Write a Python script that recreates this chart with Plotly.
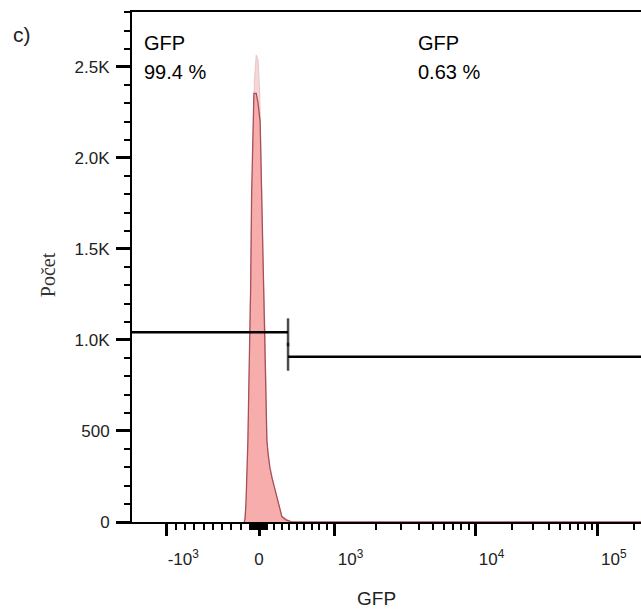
"""
GFP histogram (flow cytometry) with a biexponential-like x axis and two gates.
"""

import numpy as np
import plotly.graph_objects as go

# --- data ------------------------------------------------------------------
# GFP channel values (bin centres) and event counts, main sample (dark outline)
gfp_main = [-160, -150, -140, -130, -120, -110, -100, -90, -80, -65, -55, -30,
            -10, 15, 25, 40, 55, 65, 80, 95, 105, 120, 145, 175, 215, 255,
            305, 360, 415, 440, 262144]
count_main = [0, 20, 120, 280, 450, 750, 1000, 1300, 1800, 2250, 2355, 2355,
              2300, 2200, 2000, 1750, 1450, 1250, 1090, 750, 450, 380, 300,
              240, 180, 110, 30, 12, 3, 0, 0]

# overlaid sample (light fill), only its tip shows above the main one
gfp_overlay = [-160, -140, -120, -100, -80, -65, -50, -30, -10, 10, 25, 40,
               55, 80, 105, 145, 215, 305, 440]
count_overlay = [0, 100, 430, 950, 1700, 2150, 2420, 2565, 2540, 2350, 2000,
                 1700, 1400, 1050, 440, 290, 175, 30, 0]

# gates: GFP range and the count level the gate bar is drawn at
gate_lo = [-2000, 387]
gate_hi = [387, 262144]
gate_lo_y = 1042
gate_hi_y = 908
gate_pct = ["99.4 %", "0.63 %"]

# axis ticks
y_ticks = [0, 500, 1000, 1500, 2000, 2500]
y_ticktext = ["0", "500", "1.0K", "1.5K", "2.0K", "2.5K"]
x_ticks = [-1000, 0, 1000, 10000, 100000]
x_ticktext = ["-10<sup>3</sup>", "0", "10<sup>3</sup>", "10<sup>4</sup>", "10<sup>5</sup>"]
x_minor = ([-v for v in range(100, 1000, 100)] + [-v for v in range(10, 100, 10)]
           + list(range(10, 100, 10)) + list(range(100, 1000, 100))
           + list(range(2000, 10000, 1000)) + list(range(20000, 100000, 10000))
           + [200000])

# --- biexponential-like display transform -----------------------------------
NEG_SCALE = 92.3 / 1000   # display units per GFP unit below zero
POS_SCALE = 75.0 / 1000   # display units per GFP unit from 0 to 10^3
DECADES = [3, 4, 5, 6]
DECADE_POS = [75.0, 216.0, 338.3, 460.6]


def biex(v):
    v = np.asarray(v, dtype=float)
    out = np.where(v < 0, v * NEG_SCALE, v * POS_SCALE)
    hi = v > 1000
    out[hi] = np.interp(np.log10(v[hi]), DECADES, DECADE_POS)
    return out


pad = "\u00a0" * 7
x_ticktext = [t if t == "0" else pad + t for t in x_ticktext]

fig = go.Figure()

fig.add_trace(go.Scatter(
    x=biex(gfp_overlay), y=count_overlay, mode="lines", fill="tozeroy",
    line=dict(color="rgba(235,190,190,0.9)", width=1),
    fillcolor="rgba(242,205,205,0.8)", hoverinfo="skip", showlegend=False))

fig.add_trace(go.Scatter(
    x=biex(gfp_main), y=count_main, mode="lines", fill="tozeroy",
    line=dict(color="rgb(165,80,90)", width=1.3),
    fillcolor="rgba(248,168,168,0.9)", hoverinfo="skip", showlegend=False))

fig.add_trace(go.Scatter(
    x=biex(gate_lo), y=[gate_lo_y] * 2, mode="lines+markers",
    line=dict(color="black", width=2.5),
    marker=dict(symbol="line-ns-open", size=[0, 20],
                line=dict(color="black", width=2.5)),
    hoverinfo="skip", showlegend=False))

fig.add_trace(go.Scatter(
    x=biex(gate_hi), y=[gate_hi_y] * 2, mode="lines+markers",
    line=dict(color="black", width=2.5),
    marker=dict(symbol="line-ns-open", size=[20, 0],
                line=dict(color="black", width=2.5)),
    hoverinfo="skip", showlegend=False))

txt_font = dict(family="Liberation Sans, Arial", size=20, color="black")
for xpos, pct in zip([-117, 157], gate_pct):
    fig.add_annotation(x=xpos, y=2632, text="GFP", showarrow=False,
                       xanchor="left", yanchor="middle", font=txt_font)
    fig.add_annotation(x=xpos, y=2470, text=pct, showarrow=False,
                       xanchor="left", yanchor="middle", font=txt_font)

fig.add_annotation(x=-0.238, y=0.956, xref="paper", yref="paper", text="c)",
                   showarrow=False, xanchor="left", yanchor="middle",
                   font=dict(family="Liberation Sans, Arial", size=21, color="#222"))

# axis titles
fig.add_annotation(x=0.481, y=-0.15, xref="paper", yref="paper", text="GFP",
                   showarrow=False, xanchor="center", yanchor="middle",
                   font=dict(family="Liberation Sans, Arial", size=19, color="#222"))
fig.add_annotation(x=-0.165, y=0.484, xref="paper", yref="paper", text="Počet",
                   textangle=-90, showarrow=False, xanchor="center", yanchor="middle",
                   font=dict(family="Liberation Serif, Times New Roman", size=20,
                             color="#333"))

tick_font = dict(family="Liberation Sans, Arial", size=17, color="#222")

fig.update_layout(
    width=641, height=614,
    margin=dict(l=132, r=0, t=12, b=92),
    paper_bgcolor="white", plot_bgcolor="white",
    xaxis=dict(
        range=[-127, 382], tickmode="array", tickvals=biex(x_ticks),
        ticktext=x_ticktext, ticks="outside", ticklen=12, tickwidth=3,
        tickcolor="black", showgrid=False, zeroline=False,
        showline=True, linecolor="black", linewidth=2, mirror=True,
        tickfont=tick_font, ticklabelstandoff=9, automargin=False,
        minor=dict(tickmode="array", tickvals=biex(x_minor), ticks="outside",
                   ticklen=6, tickwidth=1.5, tickcolor="black"),
    ),
    yaxis=dict(
        range=[0, 2802], tickmode="array", tickvals=y_ticks, ticktext=y_ticktext,
        ticks="outside", ticklen=14, tickwidth=3, tickcolor="black",
        showgrid=False, zeroline=False, showline=True, linecolor="black",
        linewidth=2, tickfont=tick_font, ticklabelstandoff=3, automargin=False,
        minor=dict(dtick=100, ticks="outside", ticklen=6, tickwidth=1.5,
                   tickcolor="black"),
    ),
)

# drop the default page margin so the 641x614 figure fills the window exactly
fig.write_html("out.html", config={"displayModeBar": False},
               post_script="document.body.style.margin = '0';")
